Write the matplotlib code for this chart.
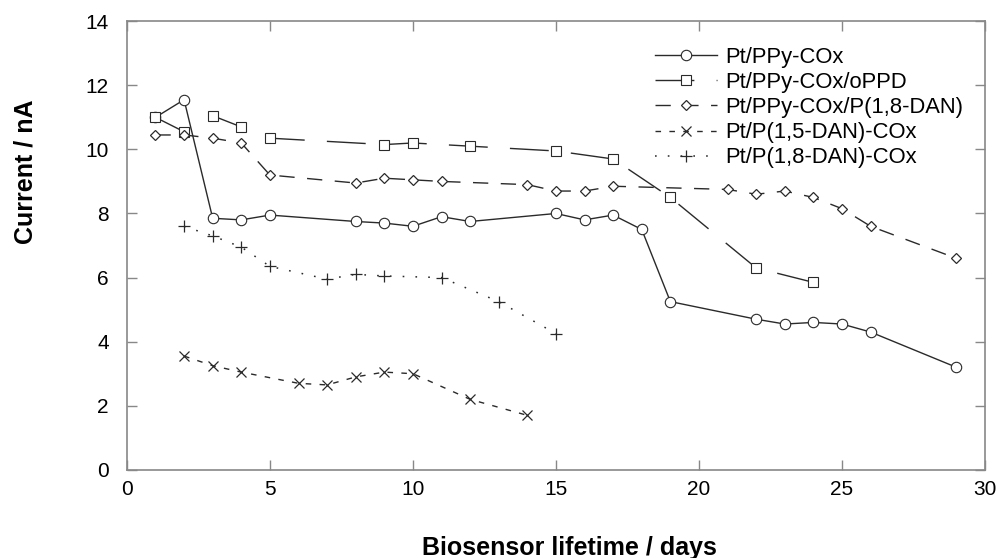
import matplotlib as mpl
import matplotlib.pyplot as plt

mpl.rcParams['font.family'] = 'Liberation Sans'
mpl.rcParams['lines.scale_dashes'] = False

# Data
days_ppy = [1, 2, 3, 4, 5, 8, 9, 10, 11, 12, 15, 16, 17, 18, 19, 22, 23, 24, 25, 26, 29]
cur_ppy = [11.0, 11.55, 7.85, 7.8, 7.95, 7.75, 7.7, 7.6, 7.9, 7.75, 8.0, 7.8, 7.95, 7.5,
           5.25, 4.7, 4.55, 4.6, 4.55, 4.3, 3.2]

days_oppd = [1, 2, 3, 4, 5, 9, 10, 12, 15, 17, 19, 22, 24]
cur_oppd = [11.0, 10.55, 11.05, 10.7, 10.35, 10.15, 10.2, 10.1, 9.95, 9.7, 8.5, 6.3, 5.85]

days_ppy_dan = [1, 2, 3, 4, 5, 8, 9, 10, 11, 14, 15, 16, 17, 21, 22, 23, 24, 25, 26, 29]
cur_ppy_dan = [10.45, 10.45, 10.35, 10.2, 9.2, 8.95, 9.1, 9.05, 9.0, 8.9, 8.7, 8.7, 8.85,
               8.75, 8.6, 8.7, 8.5, 8.15, 7.6, 6.6]

days_15dan = [2, 3, 4, 6, 7, 8, 9, 10, 12, 14]
cur_15dan = [3.55, 3.25, 3.05, 2.7, 2.65, 2.9, 3.05, 3.0, 2.2, 1.7]

days_18dan = [2, 3, 4, 5, 7, 8, 9, 11, 13, 15]
cur_18dan = [7.6, 7.3, 6.95, 6.35, 5.95, 6.1, 6.05, 6.0, 5.25, 4.25]

labels = ["Pt/PPy-COx", "Pt/PPy-COx/oPPD", "Pt/PPy-COx/P(1,8-DAN)",
          "Pt/P(1,5-DAN)-COx", "Pt/P(1,8-DAN)-COx"]

fig = plt.figure(figsize=(9.99, 5.58), dpi=100)
ax = fig.add_axes([0.127, 0.158, 0.859, 0.804])

lc = '#2a2a2a'
ax.plot(days_ppy, cur_ppy, color=lc, lw=1.0, ls='-', marker='o', ms=7.5,
        mfc='white', mec=lc, mew=0.8, label=labels[0])
ax.plot(days_oppd, cur_oppd, color=lc, lw=1.0, ls=(0, (28, 16)), marker='s', ms=7.5,
        mfc='white', mec=lc, mew=0.8, label=labels[1])
ax.plot(days_ppy_dan, cur_ppy_dan, color=lc, lw=1.0, ls=(0, (11, 9)), marker='D', ms=5,
        mfc='white', mec=lc, mew=0.9, label=labels[2])
ax.plot(days_15dan, cur_15dan, color=lc, lw=1.0, ls=(0, (4, 6)), marker='x', ms=7,
        mec=lc, mew=0.9, label=labels[3])
ax.plot(days_18dan, cur_18dan, color=lc, lw=1.1, ls=(0, (1.2, 8)), marker='+', ms=8,
        mec=lc, mew=0.9, label=labels[4])

ax.set_xlim(0, 30)
ax.set_ylim(0, 14)
ax.set_xticks(range(0, 31, 5))
ax.set_yticks(range(0, 15, 2))

for s in ax.spines.values():
    s.set_color('#888888')
    s.set_linewidth(1.2)
ax.tick_params(direction='in', length=7, width=1, color='#888888',
               top=True, right=True, labelsize=15)
ax.tick_params(axis='x', pad=7)
ax.tick_params(axis='y', pad=13)

ax.set_xlabel("Biosensor lifetime / days", fontsize=18, fontweight='bold')
ax.set_ylabel("Current / nA", fontsize=18, fontweight='bold')
ax.xaxis.set_label_coords(0.516, -0.147)
ax.yaxis.set_label_coords(-0.104, 0.664)

ax.legend(loc='upper left', bbox_to_anchor=(0.615, 0.943), frameon=False,
          fontsize=15.8, handlelength=2.85, handletextpad=0.37, labelspacing=0.19,
          borderpad=0, borderaxespad=0)

plt.savefig("out.png", dpi=100)
